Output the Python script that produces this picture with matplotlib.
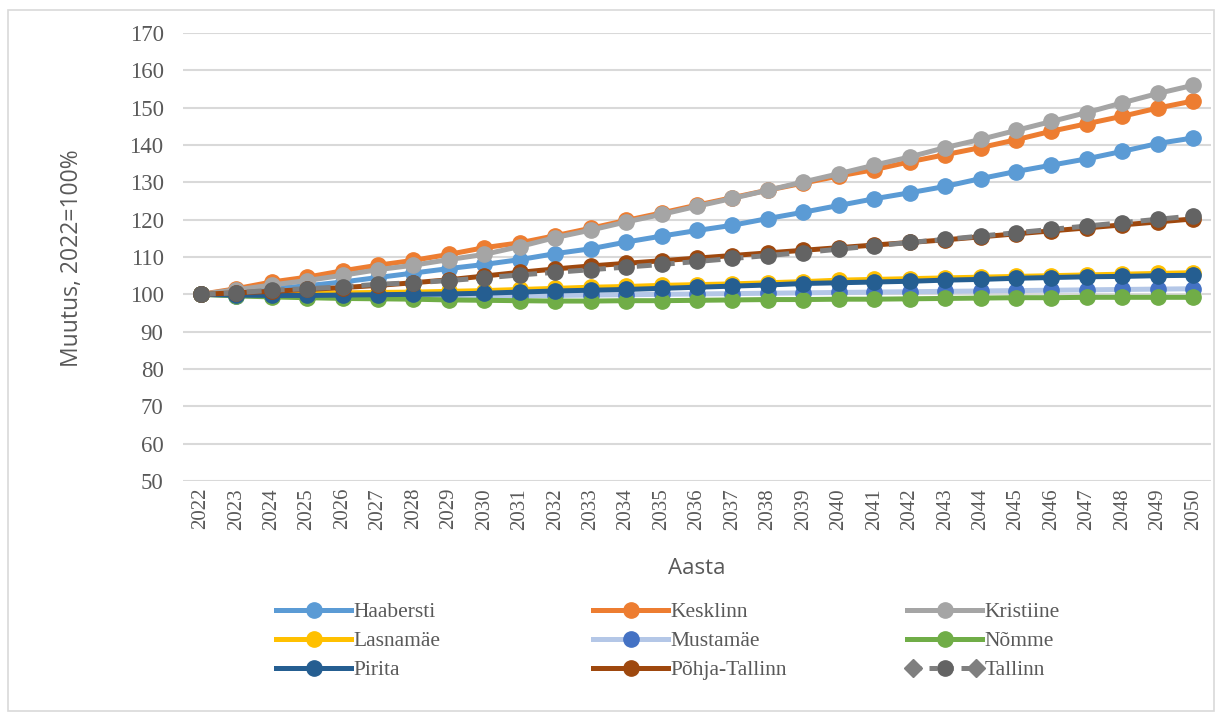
import matplotlib
matplotlib.use("Agg")
import matplotlib.pyplot as plt
from matplotlib.lines import Line2D
from matplotlib.patches import Rectangle
from matplotlib.legend_handler import HandlerLine2D, HandlerTuple

years = list(range(2022, 2051))

haabersti = [100, 100.7, 101.5, 102.3, 103.3, 104.5, 105.7, 106.9, 108.0, 109.3,
             110.9, 112.2, 114.0, 115.6, 117.1, 118.5, 120.3, 122.0, 123.8, 125.6,
             127.2, 128.9, 131.0, 132.9, 134.6, 136.3, 138.3, 140.4, 141.9]
kesklinn = [100, 101.5, 103.3, 104.6, 106.3, 107.8, 109.1, 110.7, 112.5, 113.8,
            115.7, 117.7, 119.8, 121.8, 123.9, 125.9, 127.9, 129.8, 131.7, 133.4,
            135.5, 137.4, 139.3, 141.4, 143.7, 145.7, 147.7, 149.9, 151.8]
kristiine = [100, 101.2, 102.5, 103.7, 105.1, 106.6, 107.8, 109.3, 110.7, 112.8,
             115.2, 117.2, 119.4, 121.4, 123.6, 125.7, 127.9, 130.1, 132.3, 134.6,
             136.8, 139.3, 141.5, 143.9, 146.3, 148.7, 151.3, 153.8, 156.0]
lasnamae = [100, 100.1, 100.2, 100.3, 100.4, 100.5, 100.6, 100.8, 101.0, 101.3,
            101.6, 101.9, 102.1, 102.4, 102.6, 102.8, 103.1, 103.4, 103.8, 104.0,
            104.2, 104.4, 104.6, 104.8, 105.0, 105.2, 105.4, 105.6, 105.8]
mustamae = [100, 99.6, 99.5, 99.4, 99.4, 99.4, 99.4, 99.5, 99.5, 99.6,
            99.7, 99.8, 99.9, 100.0, 100.1, 100.2, 100.3, 100.4, 100.5, 100.6,
            100.7, 100.8, 100.9, 101.0, 101.1, 101.2, 101.3, 101.4, 101.5]
nomme = [100, 99.6, 99.3, 99.1, 98.9, 98.8, 98.7, 98.5, 98.4, 98.3,
         98.2, 98.2, 98.3, 98.3, 98.4, 98.5, 98.6, 98.6, 98.7, 98.7,
         98.8, 98.9, 99.0, 99.1, 99.1, 99.2, 99.2, 99.2, 99.2]
pirita = [100, 99.8, 99.7, 99.7, 99.8, 99.9, 100.0, 100.1, 100.3, 100.6,
          100.9, 101.1, 101.3, 101.6, 101.9, 102.2, 102.5, 102.9, 103.1, 103.3,
          103.5, 103.8, 104.0, 104.3, 104.5, 104.7, 104.8, 105.0, 105.1]
pohja_tallinn = [100, 100.4, 100.8, 101.3, 101.8, 102.4, 103.1, 103.9, 104.9, 105.9,
                 106.8, 107.6, 108.3, 109.0, 109.7, 110.4, 111.1, 111.8, 112.5, 113.2,
                 113.9, 114.6, 115.4, 116.2, 117.0, 117.8, 118.6, 119.4, 120.2]
tallinn = [100, 100.4, 101.1, 101.5, 102.0, 102.7, 103.1, 103.7, 104.4, 105.2,
           105.9, 106.6, 107.3, 108.0, 108.8, 109.6, 110.4, 111.2, 112.1, 113.0,
           113.9, 114.7, 115.6, 116.5, 117.4, 118.3, 119.2, 120.1, 121.0]

series = [
    ("Haabersti", haabersti, "#5B9BD5", "#5B9BD5"),
    ("Kesklinn", kesklinn, "#ED7D31", "#ED7D31"),
    ("Kristiine", kristiine, "#A5A5A5", "#A5A5A5"),
    ("Lasnamäe", lasnamae, "#FFC000", "#FFC000"),
    ("Mustamäe", mustamae, "#B4C7E7", "#4472C4"),
    ("Nõmme", nomme, "#70AD47", "#70AD47"),
    ("Pirita", pirita, "#255E91", "#255E91"),
    ("Põhja-Tallinn", pohja_tallinn, "#9E480E", "#9E480E"),
]

fig = plt.figure(figsize=(12.22, 7.19), dpi=100)
ax = fig.add_axes([183 / 1222, 1 - 481 / 719, 1028 / 1222, 448 / 719])

x = list(range(len(years)))
handles = []
for name, vals, lc, mc in series:
    h, = ax.plot(x, vals, color=lc, lw=3.6, marker="o", ms=11,
                 markerfacecolor=mc, markeredgecolor=mc, label=name)
    handles.append(h)

ax.plot(x, tallinn, color="#7F7F7F", lw=3.6, ls=(0, (3.0, 1.6)),
        marker="o", ms=11, markerfacecolor="#636363",
        markeredgecolor="#636363", label="Tallinn")

ax.set_xlim(-0.5, len(years) - 0.5)
ax.set_ylim(50, 170)
ax.set_yticks(range(50, 171, 10))
ax.set_xticks(x)
ax.set_xticklabels([str(y) for y in years], rotation=90,
                   fontfamily="Liberation Serif", fontsize=15, color="#595959")
for lab in ax.get_yticklabels():
    lab.set_fontfamily("Liberation Serif")
    lab.set_fontsize(16.5)
    lab.set_color("#595959")
ax.tick_params(axis="y", length=0, pad=14)
ax.tick_params(axis="x", length=0, pad=5)
ax.grid(axis="y", color="#D9D9D9", lw=1.5)
ax.set_axisbelow(True)
for s in ax.spines.values():
    s.set_visible(False)

fig.text(72 / 1222, 1 - 258 / 719, "Muutus, 2022=100%", rotation=90,
         ha="center", va="center", fontsize=16.5, color="#595959", fontfamily="Open Sans")
fig.text(697 / 1222, 1 - 569 / 719, "Aasta", ha="center", va="center",
         fontsize=16, color="#595959", fontfamily="Open Sans")

# Tallinn legend symbol: diamonds at the ends, circle in the middle
tal_d = Line2D([], [], color="#7F7F7F", lw=3.6, ls=(0, (1.6, 1.6)), marker="D", ms=9,
               markerfacecolor="#7F7F7F", markeredgecolor="#7F7F7F")
tal_o = Line2D([], [], color="none", marker="o", ms=11,
               markerfacecolor="#636363", markeredgecolor="#636363")

cols = [
    ([handles[0], handles[3], handles[6]], ["Haabersti", "Lasnamäe", "Pirita"], 276),
    ([handles[1], handles[4], handles[7]], ["Kesklinn", "Mustamäe", "Põhja-Tallinn"], 593),
    ([handles[2], handles[5], (tal_d, tal_o)], ["Kristiine", "Nõmme", "Tallinn"], 907),
]
for hs, labs, xpx in cols:
    fig.legend(hs, labs, loc="upper left",
               bbox_to_anchor=(xpx / 1222, 1 - 602 / 719),
               frameon=False, handlelength=3.5, handletextpad=0.12,
               labelspacing=0.42, borderpad=0, borderaxespad=0,
               prop={"family": "Liberation Serif", "size": 15.5},
               labelcolor="#595959",
               handler_map={tuple: HandlerTuple(ndivide=1, pad=0),
                            tal_d: HandlerLine2D(numpoints=2)})

fig.patches.append(Rectangle((8 / 1222, 1 - 711 / 719), 1206 / 1222, 701 / 719,
                             transform=fig.transFigure, fill=False,
                             edgecolor="#D9D9D9", lw=1.2))

fig.savefig("out.png", dpi=100)
